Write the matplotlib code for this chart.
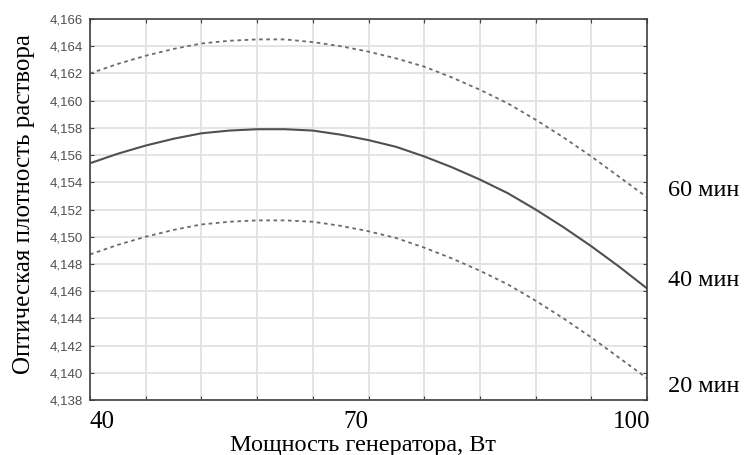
import matplotlib.pyplot as plt
import matplotlib.transforms as mtransforms
import numpy as np

# мощность генератора, Вт
power = [40, 43, 46, 49, 52, 55, 58, 61, 64, 67, 70,
         73, 76, 79, 82, 85, 88, 91, 94, 97, 100]
# оптическая плотность раствора при разном времени обработки
od_60 = [4.1620, 4.1627, 4.1633, 4.1638, 4.1642, 4.1644, 4.1645, 4.1645, 4.1643, 4.1640, 4.1636,
         4.1631, 4.1625, 4.1617, 4.1608, 4.1598, 4.1586, 4.1573, 4.1559, 4.1544, 4.1529]
od_40 = [4.1554, 4.1561, 4.1567, 4.1572, 4.1576, 4.1578, 4.1579, 4.1579, 4.1578, 4.1575, 4.1571,
         4.1566, 4.1559, 4.1551, 4.1542, 4.1532, 4.1520, 4.1507, 4.1493, 4.1478, 4.1462]
od_20 = [4.1487, 4.1494, 4.1500, 4.1505, 4.1509, 4.1511, 4.1512, 4.1512, 4.1511, 4.1508, 4.1504,
         4.1499, 4.1492, 4.1484, 4.1475, 4.1465, 4.1453, 4.1440, 4.1426, 4.1411, 4.1396]
curve_names = ['60 мин', '40 мин', '20 мин']

x_ticks = [40, 46, 52, 58, 64, 70, 76, 82, 88, 94, 100]
x_labels = {40: '40', 70: '70', 100: '100'}
y_ticks = np.arange(4.138, 4.1665, 0.002)

serif = ['Liberation Serif', 'DejaVu Serif']

fig = plt.figure(figsize=(7.45, 4.55), dpi=100)
ax = fig.add_axes([90 / 745, 1 - 400 / 455, 557 / 745, 381 / 455])

ax.plot(power, od_60, color='#6a6a6a', lw=1.3, ls=(0, (2, 2)))
ax.plot(power, od_40, color='#505050', lw=1.5, ls='-')
ax.plot(power, od_20, color='#6a6a6a', lw=1.3, ls=(0, (2, 2)))

ax.set_xlim(40, 100)
ax.set_ylim(4.138, 4.166)
ax.set_xticks(x_ticks)
ax.set_xticklabels([x_labels.get(p, '') for p in x_ticks], family=serif, fontsize=18)
ax.set_yticks(y_ticks)
ax.set_yticklabels([('%.3f' % v).replace('.', ',') for v in y_ticks],
                   family=['Liberation Sans'], fontsize=9.5, color='#505050')

ax.tick_params(axis='both', direction='in', length=3, width=0.8, color='#404040',
               top=True, right=True)
ax.tick_params(axis='x', pad=8)
ax.tick_params(axis='y', pad=5)

# подписи 40 и 100 прижаты к краям оси
for lbl in ax.get_xticklabels():
    t = lbl.get_text()
    if t == '40':
        lbl.set_ha('left')
    elif t == '100':
        lbl.set_ha('right')
        lbl.set_transform(lbl.get_transform() + mtransforms.ScaledTranslation(3 / 100, 0, fig.dpi_scale_trans))
    elif t == '70':
        lbl.set_transform(lbl.get_transform() + mtransforms.ScaledTranslation(-13 / 100, 0, fig.dpi_scale_trans))

ax.grid(True, color='#e2e2e2', lw=1.3)
ax.set_axisbelow(True)
for s in ax.spines.values():
    s.set_color('#404040')
    s.set_linewidth(1.2)

ax.set_xlabel('Мощность генератора, Вт', family=serif, fontsize=17.5, labelpad=0)
ax.xaxis.set_label_coords(0.49, -0.092)
ax.set_ylabel('Оптическая плотность раствора', family=serif, fontsize=18)
ax.yaxis.set_label_coords(-0.098, 0.515)

# подписи кривых справа от графика
for name, y_pos in zip(curve_names, [190, 280, 386]):
    fig.text(668 / 745, 1 - y_pos / 455, name, family=serif, fontsize=17.5, va='center', ha='left')

fig.savefig('out.png', dpi=100)
